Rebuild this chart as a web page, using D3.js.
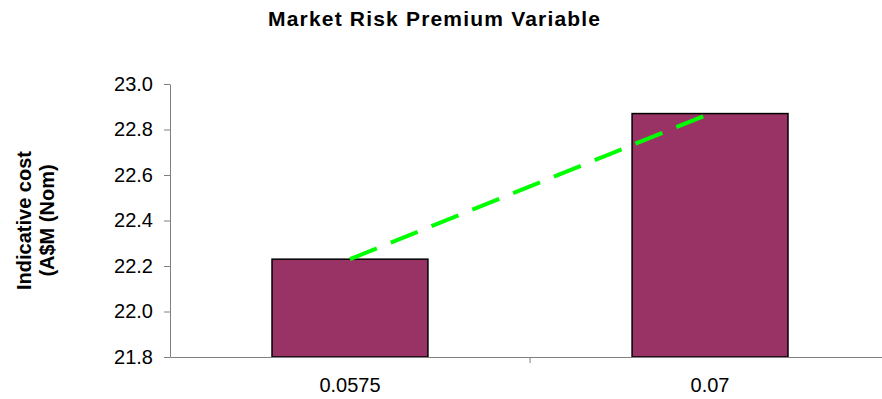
<!DOCTYPE html>
<html>
<head>
<meta charset="utf-8">
<script src="https://cdn.jsdelivr.net/npm/d3@7"></script>
<style>
  body { margin: 0; background: #fff; }
  svg { display: block; font-family: "Liberation Sans", Arial, sans-serif; }
</style>
</head>
<body>
<svg id="chart"></svg>
<script>
// data
const categories = ['0.0575', '0.07'];
const costs = [22.23, 22.87];
const yTicks = [21.8, 22.0, 22.2, 22.4, 22.6, 22.8, 23.0];

const width = 882, height = 399;
const padding = { top: 84, right: -8, bottom: 42, left: 170 };

const svg = d3.select('#chart')
    .attr('width', width)
    .attr('height', height);

const xScale = d3.scaleBand()
    .domain(categories)
    .range([padding.left, width - padding.right])
    .paddingInner(0.567)
    .paddingOuter(0.2833);

const yScale = d3.scaleLinear()
    .domain([21.8, 23.0])
    .range([height - padding.bottom, padding.top]);

// title
svg.append('text')
    .attr('x', 434)
    .attr('y', 26)
    .attr('text-anchor', 'middle')
    .attr('font-size', 21)
    .attr('font-weight', 'bold')
    .attr('textLength', 332)
    .text('Market Risk Premium Variable');

// y axis title
const yTitle = svg.append('text')
    .attr('transform', 'translate(0,' + ((padding.top + height - padding.bottom) / 2) + ') rotate(-90)')
    .attr('text-anchor', 'middle')
    .attr('font-size', 20)
    .attr('font-weight', 'bold');
yTitle.append('tspan').attr('x', 0).attr('y', 31).text('Indicative cost');
yTitle.append('tspan').attr('x', 0).attr('y', 54).text('(A$M (Nom)');

// bars
svg.selectAll('.bar')
    .data(categories)
    .enter()
    .append('rect')
        .attr('class', 'bar')
        .attr('x', d => xScale(d))
        .attr('width', xScale.bandwidth())
        .attr('y', (d, i) => yScale(costs[i]))
        .attr('height', (d, i) => yScale(21.8) - yScale(costs[i]))
        .attr('fill', '#993366')
        .attr('stroke', '#000')
        .attr('stroke-width', 1.5);

// y axis
const yAxis = svg.append('g')
    .attr('transform', 'translate(' + padding.left + ',0)')
    .call(d3.axisLeft(yScale).tickValues(yTicks).tickFormat(d3.format('.1f')).tickSize(6).tickSizeOuter(0).tickPadding(11));
yAxis.select('.domain').attr('stroke', '#808080');
yAxis.selectAll('.tick line').attr('stroke', '#808080');
yAxis.selectAll('.tick text').attr('font-size', 20).attr('fill', '#000').style('font-family', 'Liberation Sans, Arial, sans-serif');

// x axis (ticks between categories)
const xAxis = svg.append('g')
    .attr('transform', 'translate(0,' + (height - padding.bottom) + ')')
    .call(d3.axisBottom(xScale).tickSize(0).tickSizeOuter(0).tickPadding(21));
xAxis.select('.domain').attr('stroke', '#808080');
xAxis.selectAll('.tick text').attr('font-size', 20).attr('fill', '#000').style('font-family', 'Liberation Sans, Arial, sans-serif');
xAxis.selectAll('.sep')
    .data([xScale.step()])
    .enter()
    .append('line')
        .attr('class', 'sep')
        .attr('x1', d => padding.left + d)
        .attr('x2', d => padding.left + d)
        .attr('y1', 0)
        .attr('y2', 6)
        .attr('stroke', '#808080');

// dashed trend line through bar centres
const line = d3.line()
    .x((d, i) => xScale(categories[i]) + xScale.bandwidth() / 2)
    .y(d => yScale(d));
svg.append('path')
    .datum(costs)
    .attr('d', line)
    .attr('fill', 'none')
    .attr('stroke', '#00ff00')
    .attr('stroke-width', 4)
    .attr('stroke-dasharray', '29,15');
</script>
</body>
</html>
